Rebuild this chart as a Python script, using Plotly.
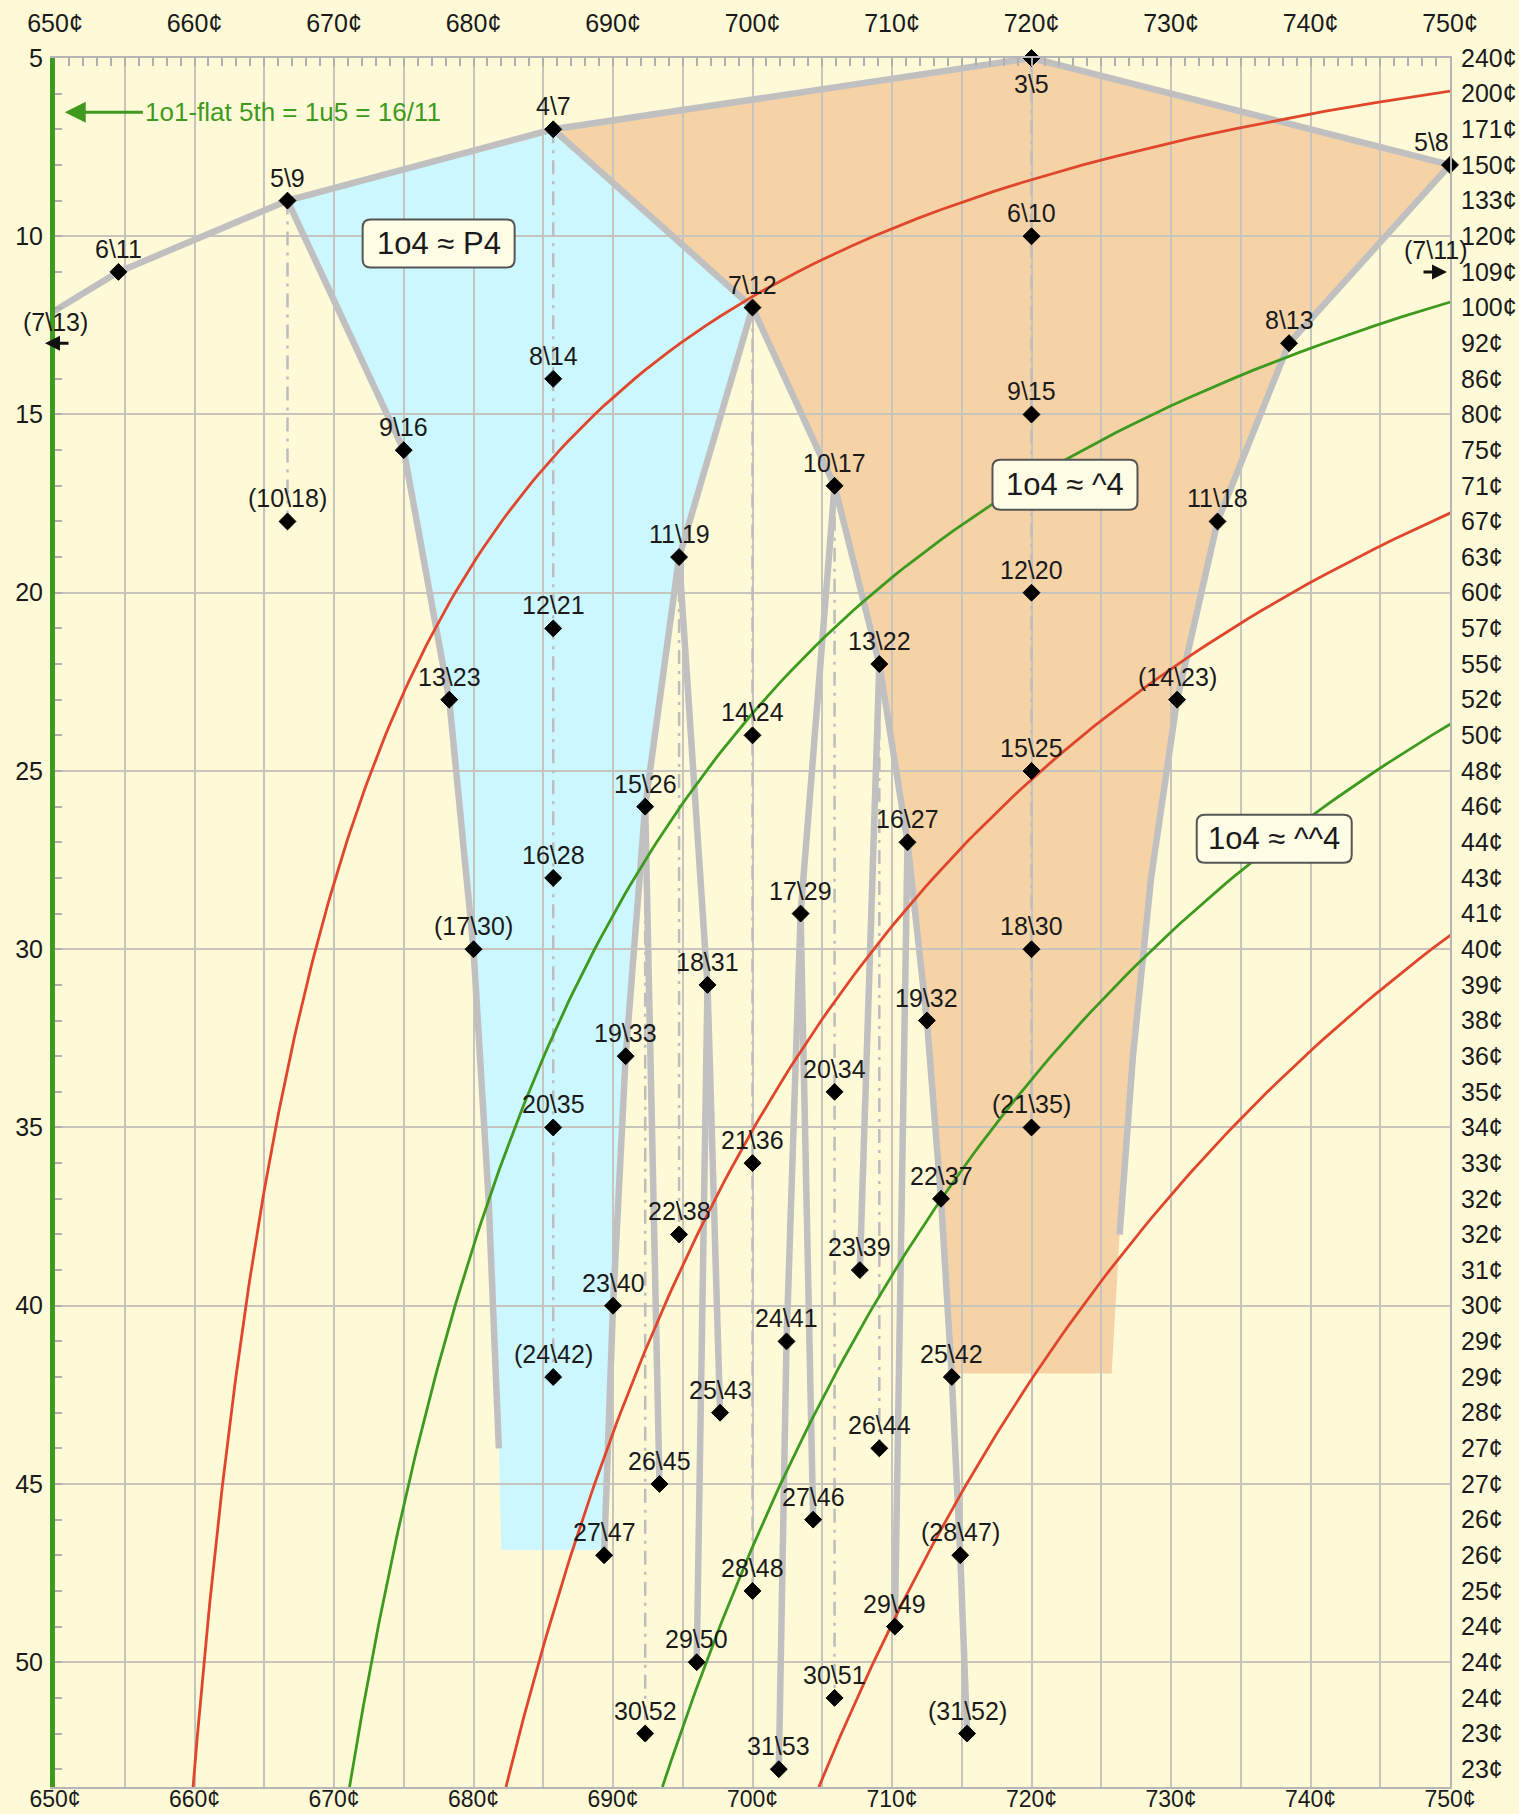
import math
import plotly.graph_objects as go

# ---------------------------------------------------------------- data ----
CENT_LABEL_TICKS = [650, 660, 670, 680, 690, 700, 710, 720, 730, 740, 750]
CENT_GRID = [650, 655, 660, 665, 670, 675, 680, 685, 690, 695, 700, 705,
             710, 715, 720, 725, 730, 735, 740, 745, 750]
EDO_LABEL_TICKS = [5, 10, 15, 20, 25, 30, 35, 40, 45, 50]
EDO_ROWS = list(range(5, 54))
STEP_SIZE_CENTS = [240, 200, 171, 150, 133, 120, 109, 100, 92, 86, 80, 75, 71,
                   67, 63, 60, 57, 55, 52, 50, 48, 46, 44, 43, 41, 40, 39, 38,
                   36, 35, 34, 33, 32, 32, 31, 30, 29, 29, 28, 27, 27, 26, 26,
                   25, 24, 24, 24, 23, 23]

# EDO fifths written k\n (k steps of n-EDO); parentheses mark a second-best fifth
FIFTHS = ["3\\5", "4\\7", "5\\8", "5\\9", "6\\10", "6\\11", "7\\12", "8\\13",
          "8\\14", "9\\15", "9\\16", "10\\17", "11\\18", "(10\\18)", "11\\19",
          "12\\20", "12\\21", "13\\22", "13\\23", "(14\\23)", "14\\24",
          "15\\25", "15\\26", "16\\27", "16\\28", "17\\29", "(17\\30)",
          "18\\30", "18\\31", "19\\32", "19\\33", "20\\34", "20\\35",
          "(21\\35)", "21\\36", "22\\37", "22\\38", "23\\39", "23\\40",
          "24\\41", "(24\\42)", "25\\42", "25\\43", "26\\44", "26\\45",
          "27\\46", "27\\47", "(28\\47)", "28\\48", "29\\49", "29\\50",
          "30\\51", "30\\52", "(31\\52)", "31\\53"]
OFF_LEFT = "(7\\13)"
OFF_RIGHT = "(7\\11)"

# scale-tree branches (each list is drawn as one polyline)
TREE_BRANCHES = [
    ["7\\13", "6\\11", "5\\9", "4\\7", "3\\5", "5\\8"],
    ["5\\9", "9\\16", "13\\23", "17\\30", "21\\37", "25\\44"],
    ["5\\8", "8\\13", "11\\18", "14\\23", "17\\28", "20\\33", "23\\38"],
    ["4\\7", "7\\12", "11\\19", "15\\26", "19\\33", "23\\40", "27\\47"],
    ["7\\12", "10\\17", "13\\22", "16\\27", "19\\32", "22\\37", "25\\42",
     "28\\47", "31\\52"],
    ["11\\19", "18\\31", "29\\50"],
    ["18\\31", "25\\43"],
    ["15\\26", "26\\45"],
    ["10\\17", "17\\29", "24\\41", "31\\53"],
    ["17\\29", "27\\46"],
    ["13\\22", "23\\39"],
    ["16\\27", "29\\49"],
]

# same fifth in a multiple EDO
MULTIPLES = [("5\\9", "10\\18"), ("4\\7", "24\\42"), ("3\\5", "21\\35"),
             ("7\\12", "28\\48"), ("11\\19", "22\\38"), ("15\\26", "30\\52"),
             ("10\\17", "30\\51"), ("13\\22", "26\\44")]

# shaded zones: 11/8 mapped to the plain fourth (blue) and the up-fourth (orange)
P4_ZONE = ["5\\9", "4\\7", "7\\12", "11\\19", "15\\26", "19\\33", "23\\40"]
P4_ZONE_FLOOR = [(689.4, 46.85), (682.0, 46.85)]
P4_ZONE_LEFT = ["25\\44", "21\\37", "17\\30", "13\\23", "9\\16"]
UP4_ZONE = ["4\\7", "3\\5", "5\\8", "8\\13", "11\\18", "14\\23", "17\\28",
            "20\\33", "23\\38"]
UP4_ZONE_FLOOR = [(725.75, 41.9), (714.3, 41.9)]
UP4_ZONE_LEFT = ["22\\37", "19\\32", "16\\27", "13\\22", "10\\17", "7\\12"]

# 11/8 relative to the fourth: 1200 - 11/8 = 16/11 (the 1o1-flat fifth)
FLAT_FIFTH = 1200 * math.log2(16 / 11)
BOUNDARY_HALF_STEPS = [1, 3, 5]   # 11/8 exactly between two fourths
IDEAL_STEPS = [1, 2]              # 11/8 exactly on ^4 / ^^4
EDO_SPAN = (5.0, 53.5)

BOXES = [("1o4 ≈ P4", 677.5, 10.2, 152, 48),
         ("1o4 ≈ ^4", 722.4, 16.97, 145, 50),
         ("1o4 ≈ ^^4", 737.4, 26.9, 155, 48)]
NOTE_TEXT = "1o1-flat 5th = 1u5 = 16/11"
NOTE_ROW = 6.52

# ---------------------------------------------------------------- style ---
FONT = "Liberation Sans, Arial, Helvetica, sans-serif"
BG = "#fefad8"
GRID = "#c6c4bc"
TREE = "#c0c0c0"
RED = "#e0462c"
GREEN = "#3e9a1f"
BLUE_FILL = "#ccf7fe"
ORANGE_FILL = "#f6d3a6"
INK = "#1a1a1a"
LABEL_SIZE = 25


def pos(label):
    k, n = label.strip("()").split("\\")
    return 1200 * int(k) / int(n), int(n)


def poly_path(points):
    return "M " + " L ".join(f"{x:.4f},{y:.4f}" for x, y in points) + " Z"


fig = go.Figure()

# zone fills, below the grid
p4_pts = [pos(l) for l in P4_ZONE] + P4_ZONE_FLOOR + [pos(l) for l in P4_ZONE_LEFT]
up4_pts = [pos(l) for l in UP4_ZONE] + UP4_ZONE_FLOOR + [pos(l) for l in UP4_ZONE_LEFT]
shapes = [
    dict(type="path", xref="x", yref="y", path=poly_path(p4_pts),
         fillcolor=BLUE_FILL, line=dict(width=0), layer="below"),
    dict(type="path", xref="x", yref="y", path=poly_path(up4_pts),
         fillcolor=ORANGE_FILL, line=dict(width=0), layer="below"),
]

# dash-dot verticals joining a fifth to its multiples
mx, my = [], []
for a, b in MULTIPLES:
    (x0, y0), (x1, y1) = pos(a), pos(b)
    mx += [x0, x1, None]
    my += [y0, y1, None]
fig.add_trace(go.Scatter(x=mx, y=my, mode="lines", hoverinfo="skip",
                         line=dict(color="#bdbdbd", width=2.5,
                                   dash="14px,7px,3px,7px")))

# scale-tree branches
tx, ty = [], []
for branch in TREE_BRANCHES:
    for lab in branch:
        x, y = pos(lab)
        tx.append(x)
        ty.append(y)
    tx.append(None)
    ty.append(None)
fig.add_trace(go.Scatter(x=tx, y=ty, mode="lines", hoverinfo="skip",
                         line=dict(color=TREE, width=6.5)))

# 11/8 mapping curves: fifth = 16/11 + m half-steps of n-EDO
rows = [EDO_SPAN[0] + i * 0.25 for i in range(int((EDO_SPAN[1] - EDO_SPAN[0]) / 0.25) + 1)]
for m in BOUNDARY_HALF_STEPS:
    fig.add_trace(go.Scatter(x=[FLAT_FIFTH + m * 600 / n for n in rows], y=rows,
                             mode="lines", hoverinfo="skip",
                             line=dict(color=RED, width=2.8)))
for m in IDEAL_STEPS:
    fig.add_trace(go.Scatter(x=[FLAT_FIFTH + m * 1200 / n for n in rows], y=rows,
                             mode="lines", hoverinfo="skip",
                             line=dict(color=GREEN, width=2.8)))

# fifths as diamonds
px = [pos(l)[0] for l in FIFTHS]
py = [pos(l)[1] for l in FIFTHS]
fig.add_trace(go.Scatter(x=px, y=py, mode="markers", xaxis="x2", yaxis="y2",
                         hoverinfo="skip", cliponaxis=False,
                         marker=dict(symbol="diamond", size=13, color="black",
                                     line=dict(color="black", width=1))))

# labels above each diamond
label_shift = {"3\\5": (0, -26), "5\\8": (-19, 23)}
annotations = []
for lab in FIFTHS:
    x, y = pos(lab)
    dx, dy = label_shift.get(lab, (0, 23))
    annotations.append(dict(x=x, y=y, xref="x", yref="y", text=lab,
                            showarrow=False, xshift=dx, yshift=dy,
                            font=dict(family=FONT, size=LABEL_SIZE, color=INK)))

# off-chart fifths: arrows at the edges
_, n_left = pos(OFF_LEFT)
_, n_right = pos(OFF_RIGHT)
annotations += [
    dict(x=650, y=n_left, xref="x", yref="y", text="", showarrow=True,
         ax=25, ay=0, xshift=-10, arrowhead=2, arrowsize=1, arrowwidth=3,
         arrowcolor="#111"),
    dict(x=650, y=n_left, xref="x", yref="y", text=OFF_LEFT, showarrow=False,
         yshift=21, font=dict(family=FONT, size=LABEL_SIZE, color=INK)),
    dict(x=750, y=n_right, xref="x", yref="y", text="", showarrow=True,
         ax=-25, ay=0, xshift=-3, arrowhead=2, arrowsize=1, arrowwidth=3,
         arrowcolor="#111"),
    dict(x=750, y=n_right, xref="x", yref="y", text=OFF_RIGHT, showarrow=False,
         xshift=-15, yshift=22, font=dict(family=FONT, size=LABEL_SIZE, color=INK)),
]

# note for the left edge
annotations.append(dict(x=650.7, y=NOTE_ROW, xref="x", yref="y",
                        ax=656.3, ay=NOTE_ROW, axref="x", ayref="y",
                        xanchor="left", text=NOTE_TEXT, showarrow=True,
                        arrowhead=2, arrowsize=1.4, arrowwidth=3,
                        arrowcolor=GREEN, standoff=0,
                        font=dict(family=FONT, size=26, color=GREEN)))

# rounded zone captions
for text, cx, cy, w, h in BOXES:
    r = 8
    x0, x1, y0, y1 = -w / 2, w / 2, -h / 2, h / 2
    path = (f"M{x0 + r},{y0} L{x1 - r},{y0} Q{x1},{y0} {x1},{y0 + r} "
            f"L{x1},{y1 - r} Q{x1},{y1} {x1 - r},{y1} L{x0 + r},{y1} "
            f"Q{x0},{y1} {x0},{y1 - r} L{x0},{y0 + r} Q{x0},{y0} {x0 + r},{y0} Z")
    shapes.append(dict(type="path", xref="x", yref="y", xsizemode="pixel",
                       ysizemode="pixel", xanchor=cx, yanchor=cy, path=path,
                       fillcolor="#fffce6", line=dict(color="#555", width=2),
                       layer="above"))
    annotations.append(dict(x=cx, y=cy, xref="x", yref="y", text=text,
                            showarrow=False,
                            font=dict(family=FONT, size=31, color=INK)))

cent_text = [f"{c}¢" for c in CENT_LABEL_TICKS]
grid_text = [f"{c}¢" if c in CENT_LABEL_TICKS else "" for c in CENT_GRID]
tick_font = dict(family=FONT, size=25, color=INK)

fig.update_layout(
    width=1519, height=1814,
    margin=dict(l=55, r=69, t=58, b=27),
    paper_bgcolor=BG, plot_bgcolor=BG,
    showlegend=False,
    shapes=shapes, annotations=annotations,
    xaxis=dict(range=[650, 750], side="top", tickmode="array",
               tickvals=CENT_GRID, ticktext=grid_text, tickfont=tick_font,
               showgrid=True, gridcolor=GRID, gridwidth=1.6, zeroline=False,
               showline=True, linecolor="#b5b5b5", linewidth=2,
               ticks="inside", ticklen=8, tickcolor="#b0b0b0", tickwidth=1.5,
               ticklabelstandoff=14, automargin=False,
               minor=dict(dtick=1, ticks="inside", ticklen=8,
                          tickcolor="#b0b0b0", tickwidth=1.5, showgrid=False),
               fixedrange=True),
    xaxis2=dict(range=[650, 750], overlaying="x", side="bottom", anchor="y",
                tickmode="array", tickvals=CENT_LABEL_TICKS, ticktext=cent_text,
                tickfont=dict(family=FONT, size=23, color=INK),
                showgrid=False, zeroline=False,
                showline=True, linecolor="#b5b5b5", linewidth=2, ticks="",
                ticklabelstandoff=-10, automargin=False),
    yaxis=dict(range=[EDO_SPAN[1], EDO_SPAN[0]], tickmode="array",
               tickvals=EDO_LABEL_TICKS,
               ticktext=[str(v) for v in EDO_LABEL_TICKS], tickfont=tick_font,
               showgrid=True, gridcolor=GRID, gridwidth=1.6, zeroline=False,
               showline=True, linecolor=GREEN, linewidth=5,
               ticks="inside", ticklen=7, tickcolor="#b0b0b0", tickwidth=1.5,
               ticklabelstandoff=2, automargin=False,
               minor=dict(dtick=1, ticks="inside", ticklen=7,
                          tickcolor="#b0b0b0", tickwidth=1.5, showgrid=False)),
    yaxis2=dict(range=[EDO_SPAN[1], EDO_SPAN[0]], overlaying="y", side="right",
                anchor="x", tickmode="array", tickvals=EDO_ROWS,
                ticktext=[f"{c}¢" for c in STEP_SIZE_CENTS], tickfont=tick_font,
                showgrid=False, zeroline=False, showline=True,
                linecolor="#b5b5b5", linewidth=2, ticks="",
                ticklabelstandoff=4, automargin=False),
)

fig.write_html("out.html")
